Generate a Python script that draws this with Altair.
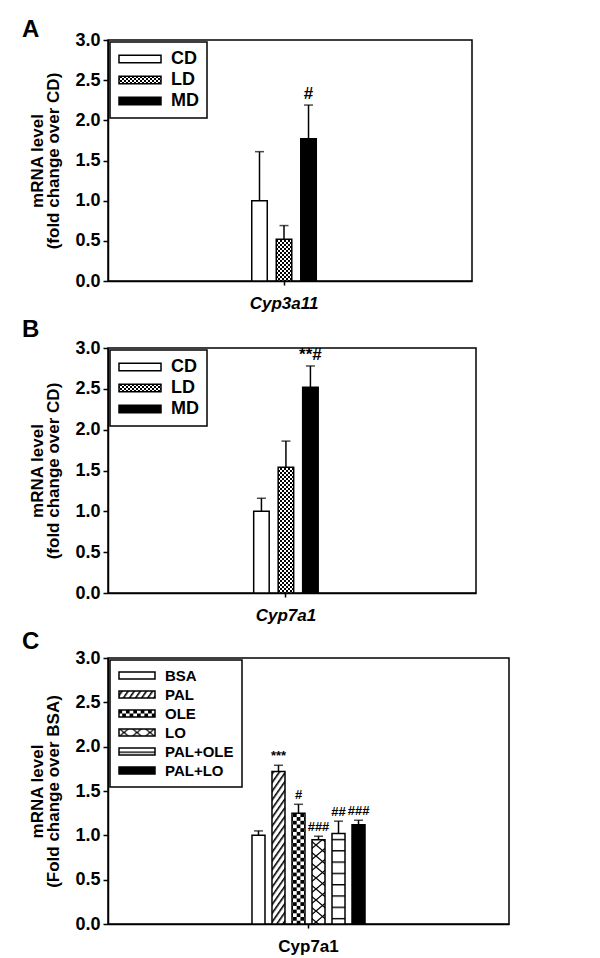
import altair as alt
import pandas as pd
import jinja2
from altair.utils import html as _alt_html

FONT = "Liberation Sans, Arial, Helvetica, sans-serif"

# ---------------- data ----------------
y_ticks = [0.0, 0.5, 1.0, 1.5, 2.0, 2.5, 3.0]

a_gene = "Cyp3a11"
a_groups = ["CD", "LD", "MD"]
a_values = [1.00, 0.52, 1.77]
a_errors = [0.61, 0.17, 0.42]
a_marks = ["", "", "#"]

b_gene = "Cyp7a1"
b_groups = ["CD", "LD", "MD"]
b_values = [1.00, 1.54, 2.52]
b_errors = [0.16, 0.32, 0.26]
b_marks = ["", "", "**#"]

c_gene = "Cyp7a1"
c_groups = ["BSA", "PAL", "OLE", "LO", "PAL+OLE", "PAL+LO"]
c_values = [1.00, 1.72, 1.25, 0.95, 1.02, 1.12]
c_errors = [0.05, 0.07, 0.10, 0.04, 0.14, 0.05]
c_marks = ["", "***", "#", "###", "##", "###"]

# fill styles (SVG patterns defined in the page)
a_fills = ["white", "url(#pLD)", "black"]
c_fills = ["white", "url(#pPAL)", "url(#pOLE)", "url(#pLO)", "url(#pPALOLE)", "black"]

PATTERN_DEFS = """<svg width="0" height="0" style="position:absolute;left:0;top:0;width:0;height:0;overflow:hidden" aria-hidden="true"><defs>
<pattern id="pLD" patternUnits="userSpaceOnUse" width="4" height="4"><rect width="4" height="4" fill="#fff"/><rect width="2" height="2" fill="#000"/><rect x="2" y="2" width="2" height="2" fill="#000"/></pattern>
<pattern id="pPAL" patternUnits="userSpaceOnUse" width="5" height="10" patternTransform="rotate(35)"><rect width="5" height="10" fill="#fff"/><rect width="1.6" height="10" fill="#000"/></pattern>
<pattern id="pOLE" patternUnits="userSpaceOnUse" width="7.4" height="7.4"><rect width="7.4" height="7.4" fill="#fff"/><rect width="3.7" height="3.7" fill="#000"/><rect x="3.7" y="3.7" width="3.7" height="3.7" fill="#000"/></pattern>
<pattern id="pLO" patternUnits="userSpaceOnUse" width="13" height="11"><rect width="13" height="11" fill="#fff"/><path d="M0,0L13,11M13,0L0,11" stroke="#000" stroke-width="1.3"/></pattern>
<pattern id="pPALOLE" patternUnits="userSpaceOnUse" width="10" height="11.3"><rect width="10" height="11.3" fill="#fff"/><rect y="0" width="10" height="1.4" fill="#000"/></pattern>
</defs></svg>"""

_BASE = getattr(_alt_html, "HTML_TEMPLATE", None) or _alt_html.TEMPLATES["standard"]


class PatternPage(jinja2.Template):
    def render(self, *args, **kwargs):
        page = _BASE.render(*args, **kwargs)
        if "<body>" in page:
            return page.replace("<body>", "<body>\n" + PATTERN_DEFS, 1)
        return PATTERN_DEFS + page


def panel(letter, letter_y, gene, groups, values, errors, marks, fills, ytitle,
          width, height, pad_in, align, inner_pad, gene_style,
          legend_font, sym_path, sym_size, clip, row_pad, leg_pad, leg_off,
          mark_font):
    df = pd.DataFrame({"gene": gene, "group": groups, "value": values,
                       "err": errors, "mark": marks})
    base = alt.Chart(df).transform_calculate(upper="datum.value + datum.err")

    x = alt.X("gene:N", title=None,
              scale=alt.Scale(paddingInner=pad_in, paddingOuter=1, align=align),
              axis=alt.Axis(labelAngle=0, labelFontStyle=gene_style, labelFontSize=17,
                            tickSize=4, labelPadding=10, domain=True))
    xo = alt.XOffset("group:N",
                     scale=alt.Scale(domain=groups, paddingInner=inner_pad, paddingOuter=0))
    yscale = alt.Scale(domain=[0, 3], nice=False, zero=True)
    yaxis = alt.Axis(values=y_ticks, format=".1f", grid=False, tickSize=5,
                     labelPadding=3, titlePadding=12)

    def Y(f):
        return alt.Y(f, scale=yscale, axis=yaxis, title=ytitle)

    bars = base.mark_bar(stroke="black", strokeWidth=1.5).encode(
        x=x, xOffset=xo, y=Y("value:Q"),
        fill=alt.Fill("group:N", scale=alt.Scale(domain=groups, range=fills),
                      legend=alt.Legend(title=None, orient="top-left", offset=leg_off,
                                        symbolType=sym_path, symbolSize=sym_size,
                                        symbolStrokeColor="black", symbolStrokeWidth=1.5,
                                        clipHeight=clip, rowPadding=row_pad,
                                        padding=leg_pad, labelOffset=9,
                                        labelFontSize=legend_font)),
    )
    rules = base.mark_rule(color="black", strokeWidth=1.5).encode(
        x=x, xOffset=xo, y=Y("value:Q"), y2="upper:Q")
    caps = base.mark_tick(color="black", thickness=1.5, size=9, orient="horizontal").encode(
        x=x, xOffset=xo, y=Y("upper:Q"))
    notes = base.mark_text(baseline="bottom", dy=-2, fontSize=mark_font,
                           fontWeight="bold", font=FONT, color="black").encode(
        x=x, xOffset=xo, y=Y("upper:Q"), text="mark:N")
    tag = alt.Chart(pd.DataFrame({"t": [letter]})).mark_text(
        align="left", baseline="alphabetic", fontSize=24, fontWeight="bold",
        font=FONT, color="black").encode(
        x=alt.value(-86), y=alt.value(letter_y), text="t:N")
    return alt.layer(bars, rules, caps, notes, tag).properties(width=width, height=height)


pa = panel("A", -3, a_gene, a_groups, a_values, a_errors, a_marks, a_fills,
           ["mRNA level", "(fold change over CD)"], 364, 241, 0.569, 0.48, 0.367,
           "italic", 18, "M-1,-0.18H1V0.18H-1Z", 1764, 18, 3, 8, 2, 17)
pb = panel("B", -11, b_gene, b_groups, b_values, b_errors, b_marks, a_fills,
           ["mRNA level", "(fold change over CD)"], 368, 245, 0.575, 0.48, 0.367,
           "italic", 18, "M-1,-0.18H1V0.18H-1Z", 1764, 18, 3, 8, 2, 17)
pc = panel("C", -9, c_gene, c_groups, c_values, c_errors, c_marks, c_fills,
           ["mRNA level", "(Fold change over BSA)"], 401, 266, 0.215, 0.5, 0.35,
           "normal", 15, "M-1,-0.2H1V0.2H-1Z", 1296, 15, 3, 8, 2, 13)

chart = (
    alt.vconcat(pa, pb, pc, spacing=5)
    .resolve_scale(x="independent", y="independent", fill="independent", xOffset="independent")
    .resolve_legend(fill="independent")
    .properties(padding={"left": 13, "top": 9, "right": 5, "bottom": 0})
    .configure_view(stroke="black", strokeWidth=1.5)
    .configure_axis(domainColor="black", domainWidth=1.5, tickColor="black", tickWidth=1.5,
                    labelColor="black", labelFont=FONT, labelFontSize=18,
                    labelFontWeight="bold", titleFont=FONT, titleFontSize=17,
                    titleFontWeight="bold", titleColor="black", titleLineHeight=16)
    .configure_legend(strokeColor="black", strokeWidth=1.5, fillColor="white",
                      labelFont=FONT, labelFontWeight="bold", labelColor="black")
)

chart.save("out.html", embed_options={"renderer": "svg", "actions": False},
           template=PatternPage(""))
